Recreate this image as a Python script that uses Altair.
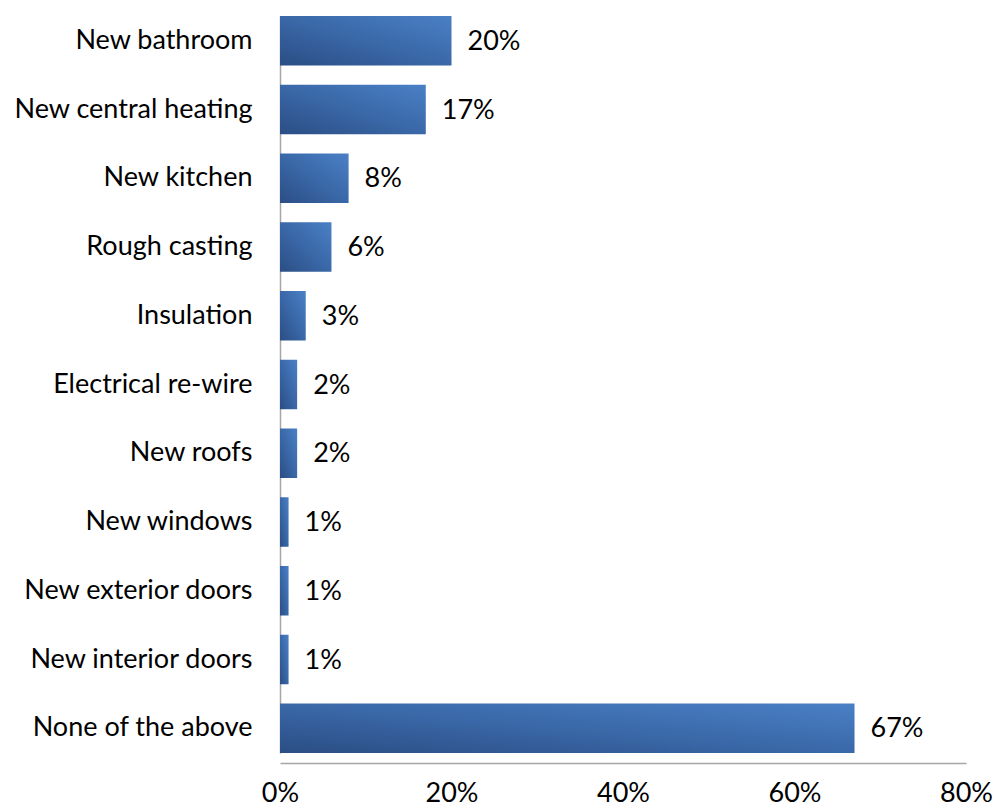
import altair as alt
import pandas as pd

categories = ["New bathroom", "New central heating", "New kitchen", "Rough casting",
              "Insulation", "Electrical re-wire", "New roofs", "New windows\u2005",
              "New exterior doors", "New interior doors", "None of the above"]
values = [0.20, 0.17, 0.08, 0.06, 0.03, 0.02, 0.02, 0.01, 0.01, 0.01, 0.67]
labels = ["20%", "17%", "8%", "6%", "3%", "2%", "2%", "1%", "1%", "1%", "67%"]
x_ticks = [0, 0.2, 0.4, 0.6, 0.8]

df = pd.DataFrame({"cat": categories, "val": values, "lab": labels})

FONT = "Lato"
FS = 27

y_enc = alt.Y("cat:N", sort=categories, title=None,
              scale=alt.Scale(paddingInner=0.28, paddingOuter=0, range=[1, 738]),
              axis=alt.Axis(domain=True, domainColor="#A6A6A6", domainWidth=1.5,
                            ticks=False, labelFontSize=FS, labelColor="#000000",
                            labelFont=FONT, labelPadding=28, labelLimit=400))
x_enc = alt.X("val:Q", title=None,
              scale=alt.Scale(domain=[0, 0.8], nice=False),
              axis=alt.Axis(values=x_ticks, format=".0%", grid=False, ticks=False,
                            domain=True, domainColor="#A6A6A6", domainWidth=1.5,
                            labelFontSize=FS, labelColor="#000000", labelFont=FONT,
                            labelPadding=17, labelFlush=False))

grad = alt.Gradient(gradient="linear", x1=0, y1=1, x2=1, y2=0,
                    stops=[alt.GradientStop(color="#2B4E84", offset=0),
                           alt.GradientStop(color="#3A68A8", offset=0.5),
                           alt.GradientStop(color="#4A80C6", offset=1)])

bars = alt.Chart(df).mark_bar(color=grad).encode(x=x_enc, y=y_enc)
text = alt.Chart(df).mark_text(align="left", dx=16, dy=1, fontSize=FS, font=FONT,
                               color="#000000").encode(
    x="val:Q", y=alt.Y("cat:N", sort=categories), text="lab:N")

chart = (bars + text).properties(
    width=686, height=748,
    autosize=alt.AutoSizeParams(type="none"),
    padding={"left": 280, "top": 15, "right": 30, "bottom": 48},
    background="white",
).configure_view(stroke=None)

chart.save("out.html", embed_options={"renderer": "svg", "actions": False})
